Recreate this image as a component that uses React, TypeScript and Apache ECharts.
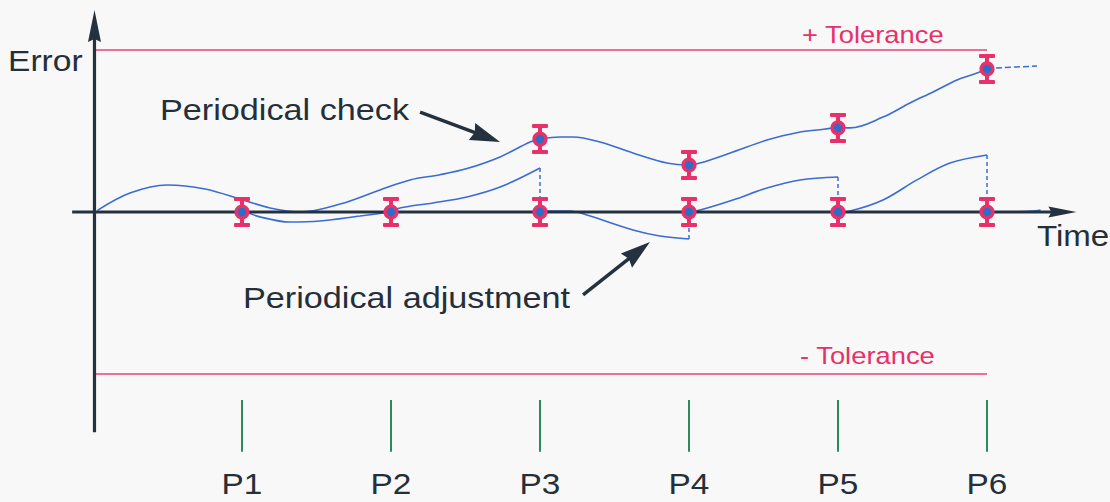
import React, { useEffect, useRef } from "react";
import * as echarts from "echarts";

// ---- data ----
const periods = ["P1", "P2", "P3", "P4", "P5", "P6"];
const periodX = [1, 2, 3, 4, 5, 6];
const tolerance = 10;
const tickTop = -11.6;
const tickBottom = -14.8;
const labelY = -16.8;

const checkCurve = [
  [0.03, 0.1], [0.248, 1.17], [0.497, 1.67], [0.752, 1.42], [1.007, 0.74],
  [1.188, 0.25], [1.389, 0.0], [1.658, 0.49], [1.926, 1.36], [2.128, 1.98],
  [2.329, 2.3], [2.51, 2.68], [2.732, 3.4], [2.933, 4.32], [3.0, 4.5],
  [3.134, 4.63], [3.221, 4.63], [3.403, 4.32], [3.624, 3.64], [3.852, 3.02],
  [4.0, 2.9], [4.074, 3.02], [4.295, 3.7], [4.523, 4.44], [4.745, 4.94],
  [4.859, 5.06], [5.0, 5.19], [5.081, 5.19], [5.302, 5.86], [5.483, 6.73],
  [5.638, 7.41], [5.799, 8.15], [5.933, 8.58], [6.0, 8.83],
];
const checkTail = [[6.0, 8.83], [6.067, 8.89], [6.336, 9.01]];

const adjustSeg1 = [[1.0, 0.1], [1.121, -0.3], [1.322, -0.62], [1.523, -0.56], [1.792, -0.25], [2.0, 0]];
const adjustSeg2 = [[2.0, 0], [2.06, 0.25], [2.282, 0.56], [2.51, 0.93], [2.732, 1.54], [3.0, 2.72]];
const adjustSeg3 = [[3.0, 0], [3.067, 0.06], [3.201, 0.06], [3.315, -0.19], [3.624, -1.11], [3.805, -1.48], [4.0, -1.67]];
const adjustSeg4 = [[4.0, 0], [4.074, 0.12], [4.295, 0.74], [4.523, 1.48], [4.745, 1.98], [5.0, 2.16]];
const adjustSeg5 = [[5.0, 0], [5.08, 0.06], [5.302, 0.74], [5.53, 1.98], [5.752, 3.02], [6.0, 3.52]];
const adjustSeg6 = [[6.0, 0], [6.107, 0.0], [6.309, 0.06], [6.36, 0.12]];
const adjustSegments = [adjustSeg1, adjustSeg2, adjustSeg3, adjustSeg4, adjustSeg5, adjustSeg6];
const resetSegments = [adjustSeg2, adjustSeg3, adjustSeg4, adjustSeg5];

const checkMarkers = [[3, 4.5], [4, 2.9], [5, 5.19], [6, 8.83]];
const zeroMarkers = periodX.map((x) => [x, 0]);

// arrows: [x1, y1, x2, y2, kind]
const yAxisArrow = [0.01, -13.6, 0.01, 12.47, 0];
const xAxisArrow = [-0.14, 0, 6.6, 0, 1];
const checkPointer = [2.195, 6.17, 2.732, 4.32, 2];
const adjustPointer = [3.289, -5.12, 3.738, -1.85, 2];
const arrowsData = [yAxisArrow, xAxisArrow, checkPointer, adjustPointer];

// ---- style ----
const FONT = '"Liberation Sans", Arial, sans-serif';
const TEXT = "#252f39";
const AXIS = "#243240";
const PINK = "#e8306a";
const TOL = "#e8407a";
const BLUE = "#3a6cd4";
const DOT = "#2f6dc4";
const GREEN = "#2e8a5a";
const arrowStyles = [
  { head: 32, width: 13, lw: 3.2 },
  { head: 28, width: 11, lw: 3.2 },
  { head: 30, width: 18, lw: 3.5 },
];

export default function App() {
  const ref = useRef<HTMLDivElement>(null);
  useEffect(() => {
    if (!ref.current) return;
    const chart = echarts.init(ref.current, null, { renderer: "svg" });
    const lineBase = {
      type: "line",
      symbol: "none",
      silent: true,
      z: 3,
    };
    const series: any[] = [];
    // tolerance lines
    series.push({ ...lineBase, data: [[0, tolerance], [6, tolerance]], lineStyle: { color: TOL, width: 1.5 } });
    series.push({ ...lineBase, data: [[0, -tolerance], [6, -tolerance]], lineStyle: { color: TOL, width: 1.5 } });
    // curves
    series.push({ ...lineBase, smooth: 0.35, data: checkCurve, lineStyle: { color: BLUE, width: 1.6 } });
    series.push({ ...lineBase, smooth: 0.3, data: checkTail, lineStyle: { color: BLUE, width: 1.5, type: [6, 3] } });
    adjustSegments.forEach((seg) => {
      series.push({ ...lineBase, smooth: 0.35, data: seg, lineStyle: { color: BLUE, width: 1.6 } });
    });
    resetSegments.forEach((seg) => {
      const end = seg[seg.length - 1];
      series.push({ ...lineBase, data: [[end[0], end[1]], [end[0], 0]], lineStyle: { color: BLUE, width: 1.5, type: [4, 3] } });
    });
    // arrows
    series.push({
      type: "custom",
      silent: true,
      z: 4,
      clip: false,
      data: arrowsData,
      renderItem: (params: any, api: any) => {
        const p1 = api.coord([api.value(0), api.value(1)]);
        const p2 = api.coord([api.value(2), api.value(3)]);
        const st = arrowStyles[api.value(4)];
        const dx = p2[0] - p1[0];
        const dy = p2[1] - p1[1];
        const len = Math.sqrt(dx * dx + dy * dy);
        const ux = dx / len, uy = dy / len;
        const nx = -uy, ny = ux;
        const bx = p2[0] - ux * st.head, by = p2[1] - uy * st.head;
        return {
          type: "group",
          children: [
            { type: "line", shape: { x1: p1[0], y1: p1[1], x2: bx + ux * 4, y2: by + uy * 4 }, style: { stroke: AXIS, lineWidth: st.lw } },
            {
              type: "polygon",
              shape: {
                points: [
                  [p2[0], p2[1]],
                  [bx + nx * st.width / 2, by + ny * st.width / 2],
                  [bx + ux * 3, by + uy * 3],
                  [bx - nx * st.width / 2, by - ny * st.width / 2],
                ],
              },
              style: { fill: AXIS },
            },
          ],
        };
      },
    });
    // period ticks and labels
    series.push({
      type: "custom",
      silent: true,
      z: 4,
      clip: false,
      data: periodX.map((x, i) => [x, i]),
      renderItem: (params: any, api: any) => {
        const x = api.value(0);
        const a = api.coord([x, tickTop]);
        const b = api.coord([x, tickBottom]);
        const c = api.coord([x, labelY]);
        return {
          type: "group",
          children: [
            { type: "line", shape: { x1: a[0], y1: a[1], x2: b[0], y2: b[1] }, style: { stroke: GREEN, lineWidth: 2 } },
            {
              type: "text",
              x: c[0],
              y: c[1],
              scaleX: 1.15,
              style: { text: periods[api.value(1)], font: `29px ${FONT}`, lineHeight: 26, fill: TEXT, align: "center", verticalAlign: "middle", textAlign: "center", textVerticalAlign: "middle" },
            },
          ],
        };
      },
    });
    // markers
    const markerRender = (params: any, api: any) => {
      const p = api.coord([api.value(0), api.value(1)]);
      const cx = p[0], cy = p[1];
      return {
        type: "group",
        children: [
          { type: "rect", shape: { x: cx - 2, y: cy - 14, width: 4, height: 28 }, style: { fill: PINK } },
          { type: "rect", shape: { x: cx - 8, y: cy - 15, width: 16, height: 4, r: 1 }, style: { fill: PINK } },
          { type: "rect", shape: { x: cx - 8, y: cy + 11, width: 16, height: 4, r: 1 }, style: { fill: PINK } },
          { type: "circle", shape: { cx, cy, r: 7.6 }, style: { fill: PINK } },
          { type: "circle", shape: { cx, cy, r: 4.2 }, style: { fill: DOT } },
        ],
      };
    };
    series.push({ type: "custom", silent: true, z: 10, clip: false, data: zeroMarkers, renderItem: markerRender });
    series.push({ type: "custom", silent: true, z: 10, clip: false, data: checkMarkers, renderItem: markerRender });

    const txt = (text: string, x: number, y: number, size: number, sx: number, fill: string) => ({
      type: "text",
      x,
      y,
      scaleX: sx,
      silent: true,
      z: 20,
      style: { text, font: `${size}px ${FONT}`, fill, align: "left", verticalAlign: "middle", textAlign: "left", textVerticalAlign: "middle" },
    });

    chart.setOption({
      animation: false,
      backgroundColor: "#f8f8f8",
      grid: { left: 3.6, top: 1.4, width: 7.4 * 149, height: 30.5 * 16.2, containLabel: false },
      xAxis: { type: "value", min: -0.6, max: 6.8, show: false },
      yAxis: { type: "value", min: -17.5, max: 13, show: false },
      series,
      graphic: [
        txt("Error", 8, 61, 30, 1.12, TEXT),
        txt("Time", 1037, 236, 29, 1.14, TEXT),
        txt("Periodical check", 160, 110, 29, 1.18, TEXT),
        txt("Periodical adjustment", 243, 298, 29, 1.18, TEXT),
        txt("+ Tolerance", 802, 35, 23, 1.19, PINK),
        txt("- Tolerance", 800, 356, 23, 1.19, PINK),
      ],
    });
    return () => chart.dispose();
  }, []);
  return <div ref={ref} style={{ position: "absolute", left: 0, top: 0, width: 1110, height: 502 }} />;
}
